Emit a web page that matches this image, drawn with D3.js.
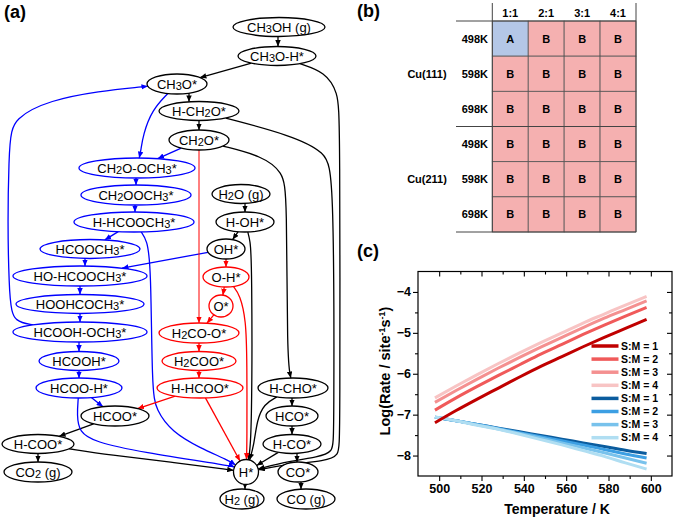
<!DOCTYPE html>
<html><head><meta charset="utf-8">
<script src="https://cdn.jsdelivr.net/npm/d3@7"></script>
<style>
body{margin:0;background:#fff}
svg{display:block}
text{font-family:'Liberation Sans',Arial,Helvetica,sans-serif}
</style>
</head><body>
<svg id="fig" width="677" height="519"></svg>
<script>
// ================= DATA =================
// ---- panel (a): reaction network ----
const species = ["CH3OH (g)","CH3O-H*","CH3O*","H-CH2O*","CH2O*","CH2O-OCH3*","CH2OOCH3*","H-HCOOCH3*",
  "H2O (g)","H-OH*","HCOOCH3*","OH*","HO-HCOOCH3*","O-H*","HOOHCOCH3*","O*","HCOOH-OCH3*","H2CO-O*",
  "HCOOH*","H2COO*","HCOO-H*","H-HCOO*","H-CHO*","HCOO*","HCO*","H-COO*","H-CO*","CO2 (g)","H*","CO*","H2 (g)","CO (g)"];
const speciesPathway = ["k","k","k","k","k","b","b","b",
  "k","k","b","k","b","r","b","r","b","r",
  "b","r","b","r","k","k","k","k","k","k","k","k","k","k"];
const reactions = [
  ["CH3OH (g)","CH3O-H*","k"],["CH3O-H*","CH3O*","k"],["CH3O-H*","H*","k"],
  ["CH3O*","H-CH2O*","k"],["H-CH2O*","CH2O*","k"],["H-CH2O*","H*","k"],
  ["CH2O*","H-CHO*","k"],["H2O (g)","H-OH*","k"],["H-OH*","OH*","k"],["H-OH*","H*","k"],
  ["H-CHO*","HCO*","k"],["H-CHO*","H*","k"],["HCO*","H-CO*","k"],["H-CO*","CO*","k"],
  ["H-CO*","H*","k"],["CO*","CO (g)","k"],["H*","H2 (g)","k"],
  ["HCOO*","H-COO*","k"],["H-COO*","CO2 (g)","k"],["H-COO*","H*","k"],
  ["CH3O*","CH2O-OCH3*","b"],["CH2O*","CH2O-OCH3*","b"],["CH2O-OCH3*","CH2OOCH3*","b"],
  ["CH2OOCH3*","H-HCOOCH3*","b"],["H-HCOOCH3*","HCOOCH3*","b"],["H-HCOOCH3*","H*","b"],
  ["HCOOCH3*","HO-HCOOCH3*","b"],["OH*","HO-HCOOCH3*","b"],["HO-HCOOCH3*","HOOHCOCH3*","b"],
  ["HOOHCOCH3*","HCOOH-OCH3*","b"],["HCOOH-OCH3*","CH3O*","b"],["HCOOH-OCH3*","HCOOH*","b"],
  ["HCOOH*","HCOO-H*","b"],["HCOO-H*","HCOO*","b"],["HCOO-H*","H*","b"],
  ["CH2O*","H2CO-O*","r"],["OH*","O-H*","r"],["O-H*","O*","r"],["O-H*","H*","r"],
  ["O*","H2CO-O*","r"],["H2CO-O*","H2COO*","r"],["H2COO*","H-HCOO*","r"],
  ["H-HCOO*","HCOO*","r"],["H-HCOO*","H*","r"]
];

// ---- panel (b): regime table ----
const surfaces = ["Cu(111)","Cu(211)"];
const tempLabels = ["498K","598K","698K"];
const ratioLabels = ["1:1","2:1","3:1","4:1"];
const regimeCu111 = [["A","B","B","B"],["B","B","B","B"],["B","B","B","B"]];
const regimeCu211 = [["B","B","B","B"],["B","B","B","B"],["B","B","B","B"]];

// ---- panel (c): log(rate) vs temperature ----
const temperatures = [498,508,518,528,538,548,558,568,578,588,598];
const redSM1 = [-7.20,-6.90,-6.62,-6.35,-6.08,-5.82,-5.58,-5.34,-5.11,-4.89,-4.67];
const redSM2 = [-6.89,-6.59,-6.31,-6.04,-5.78,-5.52,-5.28,-5.04,-4.81,-4.59,-4.38];
const redSM3 = [-6.70,-6.41,-6.13,-5.86,-5.60,-5.35,-5.11,-4.87,-4.64,-4.43,-4.22];
const redSM4 = [-6.59,-6.30,-6.02,-5.75,-5.49,-5.24,-5.00,-4.76,-4.54,-4.32,-4.11];
const blueSM1 = [-7.06,-7.15,-7.24,-7.33,-7.42,-7.51,-7.60,-7.69,-7.78,-7.87,-7.95];
const blueSM2 = [-7.06,-7.15,-7.24,-7.34,-7.44,-7.54,-7.64,-7.74,-7.85,-7.96,-8.06];
const blueSM3 = [-7.06,-7.15,-7.25,-7.35,-7.46,-7.57,-7.69,-7.81,-7.93,-8.06,-8.19];
const blueSM4 = [-7.06,-7.15,-7.26,-7.36,-7.48,-7.61,-7.74,-7.88,-8.02,-8.18,-8.33];
const seriesNames = ["S:M = 1","S:M = 2","S:M = 3","S:M = 4","S:M = 1","S:M = 2","S:M = 3","S:M = 4"];
const xTicks = [500,520,540,560,580,600];
const yTicks = [-8,-7,-6,-5,-4];

// ================= LAYOUT / STYLE =================
const svg = d3.select("#fig");
const FONT = "'Liberation Sans',Arial,Helvetica,sans-serif";
const pathColor = {k:"#000000", b:"#0000ff", r:"#ff0000"};

// node layout: [cx, cy, rx, ry]
const nodeLayout = {
  "CH3OH (g)":[279,27,46,9.5],"CH3O-H*":[277,56,39,9.5],"CH3O*":[177,84,30,10],"H-CH2O*":[199,111,40,9.5],
  "CH2O*":[199,140,30,10],"CH2O-OCH3*":[137,168,58,10],"CH2OOCH3*":[136,195,55,10],"H-HCOOCH3*":[134,222,60,10],
  "H2O (g)":[241,194,29,9.5],"H-OH*":[245,222,29,10],"HCOOCH3*":[90,249,50,9.5],"OH*":[226,249,19,10],
  "HO-HCOOCH3*":[80,276,67,10],"O-H*":[226,277,23,10],"HOOHCOCH3*":[80,304,64,9.5],"O*":[221,306,12,11],
  "HCOOH-OCH3*":[80,332,67,10],"H2CO-O*":[199,333,40,10],"HCOOH*":[79,361,40,9.5],"H2COO*":[199,361,37,9.5],
  "HCOO-H*":[79,388,43,10],"H-HCOO*":[200,388,43,10],"H-CHO*":[293,388,35,10],"HCOO*":[115,416,34,10],
  "HCO*":[292,416,26,10],"H-COO*":[38,444,36,9.5],"H-CO*":[292,444,29,9.5],"CO2 (g)":[38,472,34,10],
  "H*":[246,472,12.5,12.5],"CO*":[298,472,20,10],"H2 (g)":[242,499,22,10],"CO (g)":[306,499,29,10]
};
// edge routing
const routes = {
  "CH3OH (g)|CH3O-H*":{x:278},"CH3O*|H-CH2O*":{x:189},"H-CH2O*|CH2O*":{x:199},"H2O (g)|H-OH*":{x:245},
  "OH*|O-H*":{x:226},"H2CO-O*|H2COO*":{x:199},"H2COO*|H-HCOO*":{x:199},"CH2O-OCH3*|CH2OOCH3*":{x:136},
  "CH2OOCH3*|H-HCOOCH3*":{x:135},"HCOOCH3*|HO-HCOOCH3*":{x:85},"HO-HCOOCH3*|HOOHCOCH3*":{x:80},
  "HOOHCOCH3*|HCOOH-OCH3*":{x:80},"HCOOH-OCH3*|HCOOH*":{x:79},"HCOOH*|HCOO-H*":{x:79},
  "H-COO*|CO2 (g)":{x:38},"H-CHO*|HCO*":{x:292},"HCO*|H-CO*":{x:292},"H-CO*|CO*":{x:297},
  "CO*|CO (g)":{x:301},"H*|H2 (g)":{x:245},"CH2O*|H2CO-O*":{x:199,w:1},
  "CH3O-H*|H*":{via:[[325,72],[338,92],[340,120],[340,440],[339,456],[325,461],[290,464]]},
  "H-CH2O*|H*":{via:[[290,135],[326,152],[334,175],[334,438],[333,452],[318,457],[290,461]]},
  "CH2O*|H-CHO*":{via:[[262,156],[283,172],[287,195],[287,360]]},
  "H-OH*|H*":{via:[[250,240],[252,260],[252,440]]},
  "H-CHO*|H*":{via:[[264,404],[257,420],[254,445]]},
  "H-COO*|H*":{via:[[110,455],[170,462]]},
  "CH3O*|CH2O-OCH3*":{via:[[152,110],[143,135],[141,150]]},
  "H-HCOOCH3*|H*":{via:[[147,240],[151,265],[152,390],[156,410],[172,432],[200,448],[228,460]]},
  "HCOOH-OCH3*|CH3O*":{via:[[15,322],[8,305],[8,140],[14,118],[50,100],[100,91],[140,87]]},
  "HCOO-H*|H*":{via:[[77,415],[79,432],[95,442],[140,452],[232,466]]},
  "O-H*|H*":{via:[[240,295],[246,320],[247,360],[247,445]]}
};

// ================= PANEL (a) =================
const gA = svg.append("g");
const defs = svg.append("defs");
Object.entries(pathColor).forEach(([k,c])=>{
  defs.append("marker").attr("id","arr-"+k).attr("viewBox","0 0 7 6")
    .attr("refX",7).attr("refY",3).attr("markerWidth",6.5).attr("markerHeight",5.5)
    .attr("markerUnits","userSpaceOnUse").attr("orient","auto")
    .append("path").attr("d","M0,0L7,3L0,6Z").attr("fill",c);
});
const nodes = {};
species.forEach((s,i)=>{ const l=nodeLayout[s]; nodes[s]={id:s,cx:l[0],cy:l[1],rx:l[2],ry:l[3],p:speciesPathway[i]}; });
function bnd(n,p){const dx=p[0]-n.cx,dy=p[1]-n.cy;const t=1/Math.sqrt((dx/n.rx)**2+(dy/n.ry)**2);return [n.cx+dx*t,n.cy+dy*t];}
function vAt(n,x,below){const u=(x-n.cx)/n.rx;const h=n.ry*Math.sqrt(Math.max(0,1-u*u));return [x,below?n.cy+h:n.cy-h];}
const curved = d3.line().curve(d3.curveBasis);
const straight = d3.line();
reactions.forEach(([s,t,p])=>{
  const S=nodes[s],T=nodes[t],r=routes[s+"|"+t]||{};
  let pts, gen=straight;
  if(r.x!==undefined){pts=[vAt(S,r.x,true),vAt(T,r.x,false)];}
  else if(r.via){pts=[bnd(S,r.via[0]),...r.via,bnd(T,r.via[r.via.length-1])];gen=curved;}
  else {pts=[bnd(S,[T.cx,T.cy]),bnd(T,[S.cx,S.cy])];}
  gA.append("path").attr("d",gen(pts)).attr("fill","none").attr("stroke",pathColor[p])
    .attr("stroke-width",r.w||1.3).attr("marker-end","url(#arr-"+p+")");
});
const ng = gA.selectAll("g.node").data(Object.values(nodes)).join("g");
ng.append("ellipse").attr("cx",d=>d.cx).attr("cy",d=>d.cy).attr("rx",d=>d.rx).attr("ry",d=>d.ry)
  .attr("fill","#fff").attr("stroke",d=>pathColor[d.p]).attr("stroke-width",1.3);
ng.each(function(d){
  const t=d3.select(this).append("text").attr("x",d.cx).attr("y",d.cy+4.6)
    .attr("text-anchor","middle").attr("font-size",13).attr("fill","#000");
  const parts=d.id.split(/(\d)/).filter(x=>x.length);
  let sub=false;
  parts.forEach(pt=>{
    const isD=/^\d$/.test(pt);
    const ts=t.append("tspan").text(pt);
    if(isD){ts.attr("font-size",11).attr("dy",sub?0:1.5);sub=true;}
    else {if(sub){ts.attr("dy",-1.5);}sub=false;}
  });
});
svg.append("text").attr("x",4).attr("y",18).attr("font-size",18).attr("font-weight","bold").text("(a)");

// ================= PANEL (b) =================
const gB = svg.append("g");
const rowKeys = surfaces.flatMap(s=>tempLabels.map(t=>s+" "+t));
const cellVals = regimeCu111.concat(regimeCu211);
const bx = d3.scaleBand().domain(ratioLabels).range([492.3,636]);
const by = d3.scaleBand().domain(rowKeys).range([21,232]);
rowKeys.forEach((rk,i)=>{
  ratioLabels.forEach((c,j)=>{
    const v=cellVals[i][j];
    gB.append("rect").attr("x",bx(c)).attr("y",by(rk)).attr("width",bx.bandwidth()).attr("height",by.bandwidth())
      .attr("fill",v==="A"?"#b4c7e7":"#f5b0b0").attr("stroke","#555").attr("stroke-width",0.8);
    gB.append("text").attr("x",bx(c)+bx.bandwidth()/2).attr("y",by(rk)+by.bandwidth()/2+4)
      .attr("text-anchor","middle").attr("font-size",11).attr("font-weight","bold").text(v);
  });
  gB.append("text").attr("x",488).attr("y",by(rk)+by.bandwidth()/2+4).attr("text-anchor","end")
    .attr("font-size",11).attr("font-weight","bold").text(tempLabels[i%3]);
});
ratioLabels.forEach(c=>gB.append("text").attr("x",bx(c)+bx.bandwidth()/2).attr("y",17).attr("text-anchor","middle")
  .attr("font-size",11).attr("font-weight","bold").text(c));
surfaces.forEach((s,k)=>gB.append("text").attr("x",427).attr("y",by(rowKeys[k*3+1])+by.bandwidth()/2+4)
  .attr("text-anchor","middle").attr("font-size",11).attr("font-weight","bold").text(s));
const lc="#444";
gB.append("line").attr("x1",492.3).attr("x2",492.3).attr("y1",3).attr("y2",232).attr("stroke",lc).attr("stroke-width",1);
gB.append("line").attr("x1",636).attr("x2",636).attr("y1",3).attr("y2",232).attr("stroke",lc).attr("stroke-width",1);
[21, by(rowKeys[3]), 232].forEach(yy=>gB.append("line").attr("x1",456).attr("x2",636).attr("y1",yy).attr("y2",yy)
  .attr("stroke",lc).attr("stroke-width",1));
svg.append("text").attr("x",357).attr("y",17).attr("font-size",18).attr("font-weight","bold").text("(b)");

// ================= PANEL (c) =================
const gC = svg.append("g");
const X0=418,X1=672,Y0=271.5,Y1=476;
const x = d3.scaleLinear().domain([490,610]).range([X0,X1]);
const y = d3.scaleLinear().domain([-8.5,-3.5]).range([Y1,Y0]);
const seriesVals=[redSM1,redSM2,redSM3,redSM4,blueSM1,blueSM2,blueSM3,blueSM4];
const seriesColors=["#c00000","#f05a5a","#f49090","#f8c4c4","#0b5c9e","#3c9fe3","#78c2ec","#b0def2"];
gC.append("defs").append("clipPath").attr("id","clipc").append("rect").attr("x",X0).attr("y",Y0).attr("width",X1-X0).attr("height",Y1-Y0);
const ln = d3.line().x((d,i)=>x(temperatures[i])).y(d=>y(d)).curve(d3.curveMonotoneX);
const drawOrder=[4,5,6,7,3,2,1,0];
drawOrder.forEach(k=>gC.append("path").attr("d",ln(seriesVals[k])).attr("fill","none")
  .attr("stroke",seriesColors[k]).attr("stroke-width",3).attr("clip-path","url(#clipc)"));
// axes
const ax=(g)=>{g.select(".domain").remove();g.selectAll("text").attr("font-family",FONT).attr("font-weight","bold").attr("font-size",12.5).attr("fill","#000");g.selectAll("line").attr("stroke","#000").attr("stroke-width",1.1);};
gC.append("g").attr("transform",`translate(${X0},0)`).call(d3.axisLeft(y).tickValues(yTicks).tickSize(5).tickPadding(2).tickFormat(d3.format("d"))).call(ax);
gC.append("g").attr("transform",`translate(${X0},0)`).call(d3.axisLeft(y).tickValues([-7.5,-6.5,-5.5,-4.5]).tickSize(3).tickFormat("")).call(ax);
gC.append("g").attr("transform",`translate(${X1},0)`).call(d3.axisRight(y).tickValues(yTicks).tickSize(-5).tickFormat("")).call(ax);
gC.append("g").attr("transform",`translate(${X1},0)`).call(d3.axisRight(y).tickValues([-7.5,-6.5,-5.5,-4.5]).tickSize(-3).tickFormat("")).call(ax);
gC.append("g").attr("transform",`translate(0,${Y1})`).call(d3.axisBottom(x).tickValues(xTicks).tickSize(5).tickPadding(3).tickFormat(d3.format("d"))).call(ax);
gC.append("g").attr("transform",`translate(0,${Y1})`).call(d3.axisBottom(x).tickValues([510,530,550,570,590]).tickSize(3).tickFormat("")).call(ax);
gC.append("g").attr("transform",`translate(0,${Y0})`).call(d3.axisTop(x).tickValues(xTicks).tickSize(-5).tickFormat("")).call(ax);
gC.append("g").attr("transform",`translate(0,${Y0})`).call(d3.axisTop(x).tickValues([510,530,550,570,590]).tickSize(-3).tickFormat("")).call(ax);
gC.append("rect").attr("x",X0).attr("y",Y0).attr("width",X1-X0).attr("height",Y1-Y0).attr("fill","none").attr("stroke","#000").attr("stroke-width",1.2);
// legend
seriesNames.forEach((nm,k)=>{
  const yy=346+13.1*k;
  gC.append("line").attr("x1",591.5).attr("x2",618.5).attr("y1",yy).attr("y2",yy).attr("stroke",seriesColors[k]).attr("stroke-width",3.5);
  gC.append("text").attr("x",621).attr("y",yy+3.7).attr("font-size",10.5).attr("font-weight","bold").text(nm);
});
// titles
gC.append("text").attr("x",557).attr("y",514).attr("text-anchor","middle").attr("font-size",14).attr("font-weight","bold").text("Temperature / K");
const yt=gC.append("text").attr("transform","translate(390,371) rotate(-90)").attr("text-anchor","middle").attr("font-size",14.5).attr("font-weight","bold");
yt.append("tspan").text("Log(Rate / site");
yt.append("tspan").text("-1").attr("font-size",9).attr("dy",-5);
yt.append("tspan").text("s").attr("dy",5);
yt.append("tspan").text("-1").attr("font-size",9).attr("dy",-5);
yt.append("tspan").text(")").attr("dy",5);
svg.append("text").attr("x",357).attr("y",257).attr("font-size",18).attr("font-weight","bold").text("(c)");
</script>
</body></html>
